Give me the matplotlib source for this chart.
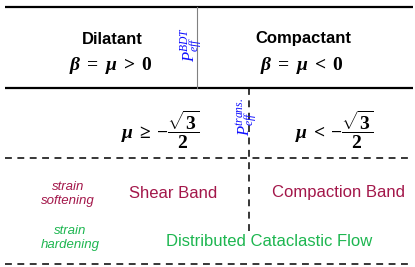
import matplotlib
matplotlib.use("Agg")
import matplotlib.pyplot as plt

plt.rcParams['mathtext.fontset'] = 'custom'
plt.rcParams['mathtext.rm'] = 'Liberation Serif:bold'
plt.rcParams['mathtext.it'] = 'Liberation Serif:italic:bold'
plt.rcParams['mathtext.bf'] = 'Liberation Serif:bold'
plt.rcParams['mathtext.sf'] = 'Liberation Serif:italic'

# Content
regime_titles = ["Dilatant", "Compactant"]
regime_eqs = [r"$\beta\;=\;\mu\;>\;0$", r"$\beta\;=\;\mu\;<\;0$"]
mu_conds = [r"$\mu\:\geq\:-\dfrac{\sqrt{3}}{2}$", r"$\mu\:<\:-\dfrac{\sqrt{3}}{2}$"]
pressure_labels = [r"$\mathsf{P}_{\mathsf{eff}}^{\mathsf{BDT}}$",
                   r"$\mathsf{P}_{\mathsf{eff}}^{\mathsf{trans.}}$"]
soft_label = "strain\nsoftening"
hard_label = "strain\nhardening"
band_labels = ["Shear Band", "Compaction Band"]
flow_label = "Distributed Cataclastic Flow"

crimson = "#A3174A"
green = "#1DB650"
blue = "#1010FF"

fig = plt.figure(figsize=(4.15, 2.67), dpi=100)
ax = fig.add_axes([0, 0, 1, 1])
ax.set_xlim(0, 415)
ax.set_ylim(267, 0)
ax.axis('off')

L, R = 5, 413
# solid lines
ax.plot([L, R], [7, 7], color='black', lw=1.6, solid_capstyle='butt')
ax.plot([L, R], [88, 88], color='black', lw=1.6, solid_capstyle='butt')
ax.plot([196.5, 196.5], [7, 88], color='#808080', lw=0.8)

# dashed lines
ax.plot([L, R], [158, 158], color='black', lw=1.1, dashes=(4.5, 3.6))
ax.plot([L, R], [264, 264], color='black', lw=1.1, dashes=(4.5, 3.6))
ax.plot([248.5, 248.5], [88, 231], color='black', lw=1.1, dashes=(4.5, 3.6))

# top section
ax.text(112, 39, regime_titles[0], ha='center', va='center', fontsize=12,
        fontweight='bold', family='Liberation Sans')
ax.text(303, 39, regime_titles[1], ha='center', va='center', fontsize=12,
        fontweight='bold', family='Liberation Sans')
ax.text(111, 65, regime_eqs[0], ha='center', va='center', fontsize=14)
ax.text(302, 65, regime_eqs[1], ha='center', va='center', fontsize=14)

# pressure labels
ax.text(191, 44, pressure_labels[0], ha='center', va='center', fontsize=12,
        color=blue, rotation=90)
ax.text(247, 117, pressure_labels[1], ha='center', va='center', fontsize=12,
        color=blue, rotation=90)

# middle section
ax.text(160, 130, mu_conds[0], ha='center', va='center', fontsize=14)
ax.text(334, 130, mu_conds[1], ha='center', va='center', fontsize=14)

# bottom section
ax.text(68, 194, soft_label, ha='center', va='center', fontsize=9.5,
        style='italic', color=crimson, family='Liberation Sans', linespacing=1.15)
ax.text(70, 238, hard_label, ha='center', va='center', fontsize=9.5,
        style='italic', color=green, family='Liberation Sans', linespacing=1.15)
ax.text(173, 193, band_labels[0], ha='center', va='center', fontsize=12,
        color=crimson, family='Liberation Sans')
ax.text(338, 193, band_labels[1], ha='center', va='center', fontsize=12,
        color=crimson, family='Liberation Sans')
ax.text(269, 241, flow_label, ha='center', va='center', fontsize=12,
        color=green, family='Liberation Sans')

fig.savefig("out.png", dpi=100)
